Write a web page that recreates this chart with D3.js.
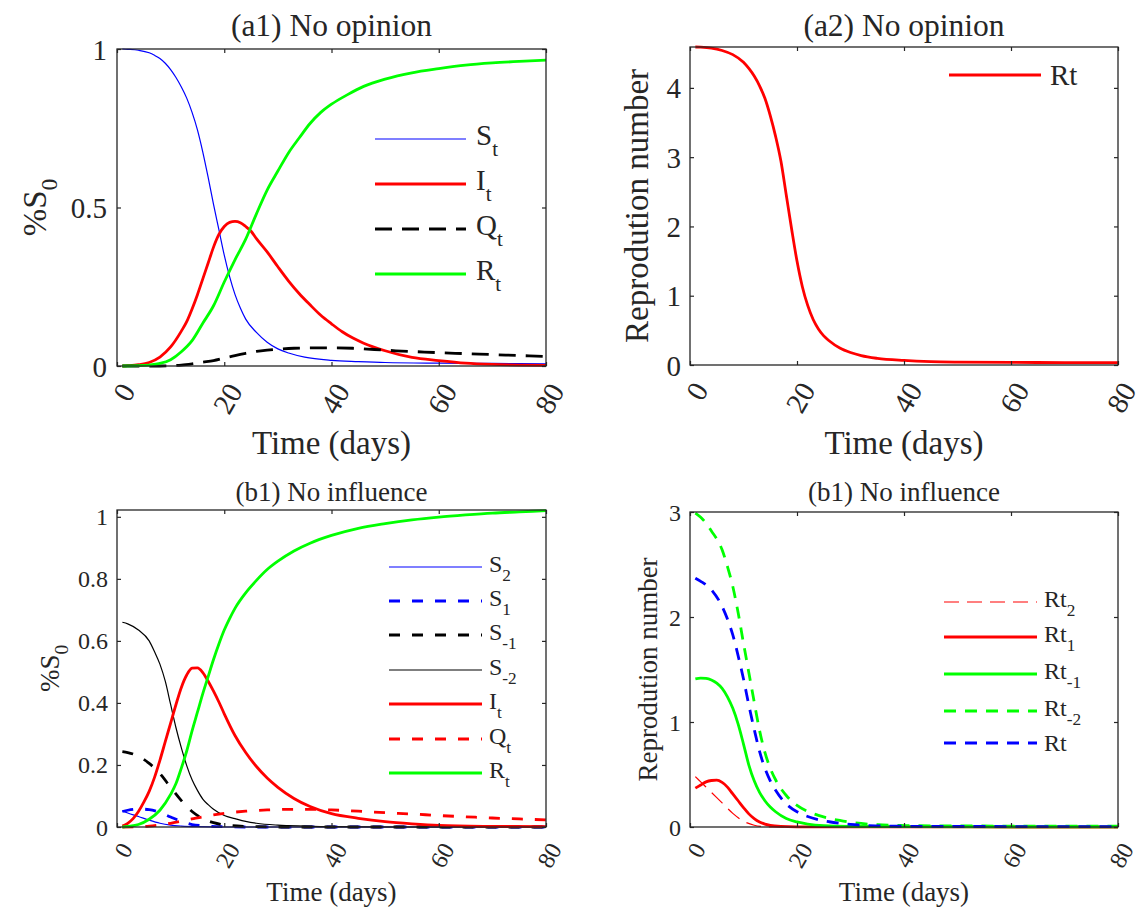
<!DOCTYPE html>
<html><head><meta charset="utf-8">
<script src="https://cdn.jsdelivr.net/npm/d3@7"></script>
<style>
body{margin:0;background:#fff}
text{font-family:"Liberation Serif","Times New Roman",serif;fill:#262626}
</style>
</head><body><script>
// ---------------- data ----------------
const xTicks = [0, 20, 40, 60, 80];
const a1YTicks = [0, 0.5, 1];
const a2YTicks = [0, 1, 2, 3, 4];
const b1YTicks = [0, 0.2, 0.4, 0.6, 0.8, 1];
const b2YTicks = [0, 1, 2, 3];

// (a1) No opinion  [day, fraction]
const a1_S = [[1,1.0],[2,0.999],[4,0.996],[6,0.988],[7,0.98],[8,0.97],[9,0.955],[10,0.935],[11,0.91],[12,0.88],[13,0.845],[14,0.80],[15,0.745],[16,0.675],[17,0.595],[18,0.51],[19,0.43],[20,0.35],[21,0.282],[22,0.226],[23,0.183],[24,0.148],[26,0.106],[28,0.075],[30,0.054],[32,0.041],[35,0.028],[40,0.018],[45,0.014],[50,0.011],[60,0.009],[70,0.008],[80,0.007]];
const a1_I = [[1,0],[2,0.001],[4,0.004],[6,0.011],[8,0.028],[10,0.06],[12,0.11],[13,0.14],[14,0.18],[15,0.225],[16,0.275],[17,0.325],[18,0.375],[19,0.415],[20,0.44],[21,0.453],[22,0.456],[23,0.452],[24,0.44],[25,0.425],[26,0.402],[28,0.36],[30,0.313],[32,0.268],[34,0.228],[36,0.193],[38,0.16],[40,0.133],[42,0.108],[44,0.088],[46,0.072],[50,0.048],[55,0.027],[60,0.017],[65,0.009],[70,0.005],[75,0.003],[80,0.002]];
const a1_Q = [[1,0],[8,0],[10,0.001],[12,0.003],[14,0.007],[16,0.012],[18,0.017],[20,0.025],[22,0.033],[24,0.04],[26,0.046],[28,0.05],[30,0.053],[33,0.056],[36,0.057],[40,0.057],[44,0.056],[48,0.052],[52,0.048],[56,0.045],[60,0.042],[65,0.039],[70,0.036],[75,0.033],[80,0.03]];
const a1_R = [[1,0],[4,0.001],[6,0.003],[8,0.008],[10,0.02],[12,0.045],[14,0.08],[16,0.135],[18,0.19],[20,0.265],[22,0.335],[24,0.40],[26,0.48],[28,0.555],[30,0.615],[32,0.673],[34,0.72],[36,0.765],[38,0.80],[40,0.826],[43,0.856],[46,0.882],[50,0.905],[55,0.925],[60,0.938],[65,0.949],[70,0.956],[75,0.961],[80,0.965]];

// (a2) No opinion  reproduction number
const a2_Rt = [[1,4.59],[2,4.588],[4,4.575],[6,4.54],[8,4.48],[10,4.37],[11,4.28],[12,4.17],[13,4.03],[14,3.85],[15,3.6],[16,3.3],[17,2.94],[18,2.45],[19,1.96],[20,1.5],[21,1.13],[22,0.86],[23,0.66],[24,0.52],[25,0.42],[26,0.35],[28,0.245],[30,0.18],[32,0.135],[35,0.096],[40,0.066],[45,0.049],[50,0.042],[60,0.037],[70,0.035],[80,0.033]];

// (b1) No influence  fractions
const b1_S2 = [[1,0.052],[2,0.045],[4,0.034],[6,0.022],[8,0.012],[10,0.006],[12,0.003],[15,0.001],[20,0],[80,0]];
const b1_S1 = [[1,0.05],[2,0.054],[4,0.058],[6,0.056],[8,0.047],[10,0.032],[12,0.018],[14,0.008],[16,0.004],[20,0.001],[25,0],[80,0]];
const b1_Sm1 = [[1,0.243],[2,0.24],[4,0.228],[6,0.205],[8,0.172],[10,0.128],[12,0.085],[14,0.05],[16,0.027],[18,0.014],[20,0.007],[24,0.002],[30,0],[80,0]];
const b1_Sm2 = [[1,0.66],[2,0.655],[4,0.635],[6,0.6],[7,0.565],[8,0.525],[9,0.47],[10,0.395],[11,0.32],[12,0.255],[13,0.198],[14,0.152],[15,0.118],[16,0.09],[17,0.072],[18,0.057],[20,0.037],[22,0.027],[24,0.018],[26,0.012],[30,0.006],[35,0.003],[40,0.001],[50,0],[80,0]];
const b1_I = [[1,0.003],[2,0.012],[3,0.027],[4,0.05],[5,0.08],[6,0.115],[7,0.16],[8,0.215],[9,0.275],[10,0.335],[11,0.395],[12,0.45],[13,0.49],[14,0.512],[15,0.513],[16,0.498],[17,0.47],[18,0.438],[19,0.403],[20,0.365],[22,0.295],[24,0.24],[26,0.195],[28,0.158],[30,0.128],[33,0.092],[36,0.066],[40,0.043],[45,0.028],[50,0.017],[55,0.01],[60,0.005],[70,0.002],[80,0.001]];
const b1_Q = [[1,0],[4,0.001],[6,0.003],[8,0.007],[10,0.012],[12,0.019],[14,0.026],[16,0.033],[18,0.039],[20,0.044],[24,0.051],[28,0.055],[32,0.057],[36,0.057],[40,0.055],[45,0.051],[50,0.046],[55,0.042],[60,0.037],[65,0.033],[70,0.029],[75,0.026],[80,0.023]];
const b1_R = [[1,0],[2,0.002],[4,0.008],[6,0.025],[8,0.054],[10,0.105],[11,0.14],[12,0.19],[13,0.245],[14,0.31],[15,0.37],[16,0.43],[17,0.485],[18,0.54],[19,0.59],[20,0.635],[21,0.672],[22,0.705],[24,0.755],[26,0.795],[28,0.83],[30,0.857],[33,0.89],[36,0.915],[40,0.94],[45,0.963],[50,0.978],[55,0.99],[60,0.999],[65,1.006],[70,1.012],[75,1.016],[80,1.02]];

// (b1) No influence  reproduction numbers (right panel)
const b2_Rt2 = [[1,0.48],[2,0.43],[4,0.33],[6,0.23],[8,0.13],[10,0.055],[12,0.017],[14,0.003],[16,0],[80,0]];
const b2_Rt1 = [[1,0.37],[2,0.40],[3,0.43],[4,0.443],[5,0.446],[6,0.425],[7,0.38],[8,0.315],[9,0.25],[10,0.185],[11,0.125],[12,0.08],[13,0.048],[14,0.028],[15,0.016],[17,0.006],[20,0.002],[25,0.001],[80,0]];
const b2_Rtm1 = [[1,1.41],[2,1.418],[3,1.415],[4,1.4],[5,1.37],[6,1.32],[7,1.24],[8,1.13],[9,0.98],[10,0.79],[11,0.59],[12,0.44],[13,0.33],[14,0.25],[15,0.19],[16,0.145],[18,0.08],[20,0.048],[22,0.028],[25,0.013],[30,0.006],[40,0.003],[80,0.002]];
const b2_Rtm2 = [[1,2.99],[2,2.95],[4,2.82],[6,2.64],[7,2.48],[8,2.29],[9,2.04],[10,1.75],[11,1.47],[12,1.19],[13,0.92],[14,0.71],[15,0.56],[16,0.45],[18,0.3],[20,0.205],[22,0.148],[24,0.11],[26,0.083],[28,0.062],[30,0.045],[35,0.022],[40,0.014],[50,0.01],[60,0.009],[80,0.008]];
const b2_Rt = [[1,2.37],[2,2.34],[4,2.26],[6,2.1],[7,1.98],[8,1.83],[9,1.63],[10,1.41],[11,1.16],[12,0.93],[13,0.72],[14,0.56],[15,0.44],[16,0.35],[18,0.22],[20,0.145],[22,0.1],[24,0.07],[26,0.05],[28,0.035],[30,0.024],[35,0.011],[40,0.007],[50,0.005],[80,0.004]];

// ---------------- drawing ----------------
const W = 1138, H = 907;
const FONT = '"Liberation Serif","Times New Roman",serif';
const svg = d3.select("body").append("svg").attr("width", W).attr("height", H)
  .attr("font-family", FONT);
const BLUE = "#0000ff", RED = "#ff0000", GREEN = "#00ff00", BLACK = "#000000";
const THICK = 2.8, THIN = 1.2;

function addText(sel, main, sub, subSize, subDy) {
  sel.append("tspan").text(main);
  if (sub) sel.append("tspan").attr("font-size", subSize).attr("dy", subDy).text(sub);
}

function panel(c) {
  const g = svg.append("g");
  const x = d3.scaleLinear().domain([0, 80]).range([c.l, c.r]);
  const y = d3.scaleLinear().domain([0, c.ymax]).range([c.b, c.t]);
  const clipId = "clip" + c.id;
  svg.append("clipPath").attr("id", clipId).append("rect")
    .attr("x", c.l).attr("y", c.t - 2).attr("width", c.r - c.l).attr("height", c.b - c.t + 4);

  const line = d3.line().x(d => x(d[0])).y(d => y(d[1])).curve(d3.curveMonotoneX);
  const lg = g.append("g").attr("clip-path", `url(#${clipId})`);
  c.series.forEach(s => {
    lg.append("path").attr("d", line(s.data)).attr("fill", "none")
      .attr("stroke", s.color).attr("stroke-width", s.w)
      .attr("stroke-dasharray", s.dash || null);
  });

  // axes
  const tk = 4;
  const axB = g.append("g").attr("transform", `translate(0,${c.b})`)
    .call(d3.axisBottom(x).tickValues(xTicks).tickSizeInner(-tk).tickSizeOuter(0).tickFormat(d3.format("d")));
  axB.selectAll("text").attr("x", 0).attr("y", 0).attr("dy", null)
    .attr("text-anchor", "end").attr("dominant-baseline", "central")
    .attr("font-size", c.tickFont)
    .attr("transform", `translate(${c.xlOff[0]},${c.xlOff[1]}) rotate(-60)`);
  const axL = g.append("g").attr("transform", `translate(${c.l},0)`)
    .call(d3.axisLeft(y).tickValues(c.yTicks).tickSizeInner(-tk).tickSizeOuter(0).tickPadding(c.ylPad).tickFormat(d => String(d)));
  axL.selectAll("text").attr("font-size", c.tickFont).attr("dy", null).attr("dominant-baseline", "central");
  g.append("g").attr("transform", `translate(0,${c.t})`)
    .call(d3.axisTop(x).tickValues(xTicks).tickSizeInner(-tk).tickSizeOuter(0).tickFormat(""));
  g.append("g").attr("transform", `translate(${c.r},0)`)
    .call(d3.axisRight(y).tickValues(c.yTicks).tickSizeInner(-tk).tickSizeOuter(0).tickFormat(""));
  g.selectAll(".domain").remove();
  g.selectAll("g").filter(function(){ return this.getAttribute("font-family"); }).attr("font-family", FONT);
  g.selectAll(".tick line").attr("stroke", "#262626").attr("stroke-width", 1.2);
  g.selectAll(".tick text").attr("fill", "#262626");
  g.append("rect").attr("x", c.l).attr("y", c.t).attr("width", c.r - c.l).attr("height", c.b - c.t)
    .attr("fill", "none").attr("stroke", "#262626").attr("stroke-width", 1.3);

  // title
  g.append("text").attr("x", (c.l + c.r) / 2).attr("y", c.titleY).attr("text-anchor", "middle")
    .attr("font-size", c.titleFont).text(c.title);
  // x label
  g.append("text").attr("x", (c.l + c.r) / 2).attr("y", c.xLabelY).attr("text-anchor", "middle")
    .attr("font-size", c.labelFont).text("Time (days)");
  // y label
  const yl = g.append("text").attr("transform", `translate(${c.yLabelX},${(c.t + c.b) / 2}) rotate(-90)`)
    .attr("text-anchor", "middle").attr("font-size", c.labelFont);
  addText(yl, c.yLabel[0], c.yLabel[1], c.labelFont * 0.72, c.labelFont * 0.32);

  // legend
  c.series.forEach((s, i) => {
    const ry = c.leg.rows[i];
    g.append("line").attr("x1", c.leg.x1).attr("x2", c.leg.x2).attr("y1", ry).attr("y2", ry)
      .attr("stroke", s.color).attr("stroke-width", s.w).attr("stroke-dasharray", s.dash || null);
    const t = g.append("text").attr("x", c.leg.tx).attr("y", ry + (s.sub ? c.leg.offSub : c.leg.off))
      .attr("font-size", c.leg.font);
    addText(t, s.name, s.sub, c.leg.font * 0.72, c.leg.font * 0.38);
  });
}

panel({
  id: "a1", l: 117, r: 546, t: 49, b: 366, ymax: 1, yTicks: a1YTicks,
  tickFont: 29, titleFont: 31.5, labelFont: 33, ylPad: 10, xlOff: [10, 20],
  title: "(a1) No opinion", titleY: 36, xLabelY: 454, yLabelX: 46, yLabel: ["%S", "0"],
  series: [
    {data: a1_S, color: BLUE, w: THIN, name: "S", sub: "t"},
    {data: a1_I, color: RED, w: THICK, name: "I", sub: "t"},
    {data: a1_Q, color: BLACK, w: THICK, dash: "17,10", name: "Q", sub: "t"},
    {data: a1_R, color: GREEN, w: THICK, name: "R", sub: "t"}
  ],
  leg: {x1: 375, x2: 466, tx: 476, rows: [139, 184, 229, 274], font: 29, off: 10, offSub: 6}
});

panel({
  id: "a2", l: 690, r: 1118, t: 47, b: 365, ymax: 4.59, yTicks: a2YTicks,
  tickFont: 29, titleFont: 31.5, labelFont: 33, ylPad: 9, xlOff: [10, 20],
  title: "(a2) No opinion", titleY: 36, xLabelY: 454, yLabelX: 648, yLabel: ["Reprodution number", null],
  series: [
    {data: a2_Rt, color: RED, w: THICK, name: "Rt"}
  ],
  leg: {x1: 949, x2: 1041, tx: 1050, rows: [75], font: 29, off: 10, offSub: 6}
});

panel({
  id: "b1", l: 117, r: 546, t: 510, b: 827, ymax: 1.022, yTicks: b1YTicks,
  tickFont: 24, titleFont: 27, labelFont: 27, ylPad: 9, xlOff: [9, 18],
  title: "(b1) No influence", titleY: 501, xLabelY: 901, yLabelX: 59, yLabel: ["%S", "0"],
  series: [
    {data: b1_S2, color: BLUE, w: THIN, name: "S", sub: "2"},
    {data: b1_S1, color: BLUE, w: THICK, dash: "11,12", name: "S", sub: "1"},
    {data: b1_Sm1, color: BLACK, w: THICK, dash: "11,12", name: "S", sub: "-1"},
    {data: b1_Sm2, color: BLACK, w: THIN, name: "S", sub: "-2"},
    {data: b1_I, color: RED, w: THICK, name: "I", sub: "t"},
    {data: b1_Q, color: RED, w: THICK, dash: "11,12", name: "Q", sub: "t"},
    {data: b1_R, color: GREEN, w: THICK, name: "R", sub: "t"}
  ],
  leg: {x1: 389, x2: 482, tx: 489, rows: [567, 601, 635, 670, 704, 739, 773], font: 24, off: 8, offSub: 5}
});

panel({
  id: "b2", l: 690, r: 1118, t: 512, b: 827, ymax: 3, yTicks: b2YTicks,
  tickFont: 24, titleFont: 27, labelFont: 27, ylPad: 9, xlOff: [9, 18],
  title: "(b1) No influence", titleY: 501, xLabelY: 901, yLabelX: 657, yLabel: ["Reprodution number", null],
  series: [
    {data: b2_Rt2, color: RED, w: THIN, dash: "15,8", name: "Rt", sub: "2"},
    {data: b2_Rt1, color: RED, w: THICK, name: "Rt", sub: "1"},
    {data: b2_Rtm1, color: GREEN, w: THICK, name: "Rt", sub: "-1"},
    {data: b2_Rtm2, color: GREEN, w: THICK, dash: "12,9", name: "Rt", sub: "-2"},
    {data: b2_Rt, color: BLUE, w: THICK, dash: "12,9", name: "Rt"}
  ],
  leg: {x1: 944, x2: 1037, tx: 1044, rows: [602, 637, 674, 711, 743], font: 24, off: 8, offSub: 5}
});
</script></body></html>
